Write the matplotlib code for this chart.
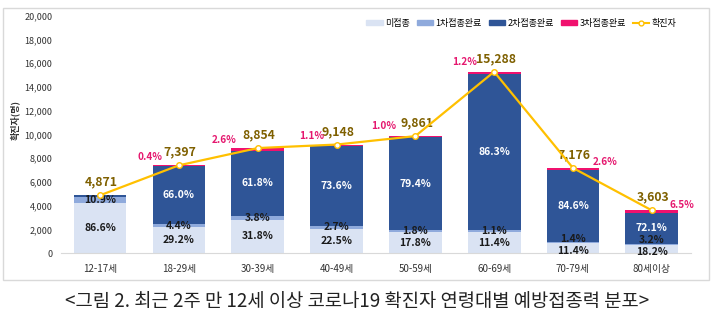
import numpy as np
import matplotlib
matplotlib.use("Agg")
import matplotlib.pyplot as plt
from matplotlib.patches import Rectangle
from matplotlib.lines import Line2D

plt.rcParams['font.family'] = ['Noto Sans CJK KR', 'DejaVu Sans']

# 데이터
ages = ["12-17세", "18-29세", "30-39세", "40-49세", "50-59세", "60-69세", "70-79세", "80세이상"]
totals = [4871, 7397, 8854, 9148, 9861, 15288, 7176, 3603]
pct_none = [86.6, 29.2, 31.8, 22.5, 17.8, 11.4, 11.4, 18.2]
pct_dose1 = [10.9, 4.4, 3.8, 2.7, 1.8, 1.1, 1.4, 3.2]
pct_dose2 = [2.5, 66.0, 61.8, 73.6, 79.4, 86.3, 84.6, 72.1]
pct_dose3 = [0.0, 0.4, 2.6, 1.1, 1.0, 1.2, 2.6, 6.5]
series_names = ["미접종", "1차접종완료", "2차접종완료", "3차접종완료"]
line_name = "확진자"
caption = "<그림 2. 최근 2주 만 12세 이상 코로나19 확진자 연령대별 예방접종력 분포>"

colors = ["#DAE3F3", "#8FAADC", "#2F5597", "#F0116E"]
txt_colors = ["#1a1a1a", "#1a1a1a", "white", None]
line_color = "#FFC000"
total_color = "#7F6000"
pink = "#E5176E"

fig = plt.figure(figsize=(7.14, 3.24), dpi=100)
ax = fig.add_axes([0.085, 0.219, 0.883, 0.732])

x = np.arange(len(ages))
totals_a = np.array(totals, dtype=float)
pcts = [np.array(p) for p in (pct_none, pct_dose1, pct_dose2, pct_dose3)]
bottom = np.zeros(len(ages))
width = 0.67
# 작은 구간 라벨 겹침 방지용 세로 이동(pt)
nudge = {(0, 6): -2, (0, 7): -2, (1, 6): 3, (1, 7): 3}
for i, p in enumerate(pcts):
    h = totals_a * p / 100
    ax.bar(x, h, width, bottom=bottom, color=colors[i], edgecolor="none", zorder=2)
    # 막대 안 비율 표시 (3차는 위쪽에 별도 표시)
    if i < 3:
        for j in range(len(ages)):
            if i == 2 and j == 0:
                continue
            ax.annotate(f"{p[j]:.1f}%", (x[j], bottom[j] + h[j] / 2),
                        xytext=(0, nudge.get((i, j), 0)), textcoords="offset points",
                        ha="center", va="center", fontsize=7.5, fontweight="bold",
                        color=txt_colors[i], zorder=4)
    bottom += h

# 확진자 선
ax.plot(x, totals, color=line_color, lw=1.6, marker="o", ms=4,
        mfc="white", mec=line_color, mew=1, zorder=5)
for j in range(len(ages)):
    ax.annotate(f"{totals[j]:,}", (x[j], totals[j]), xytext=(1, 9.5), textcoords="offset points",
                ha="center", va="center", fontsize=8.8, fontweight="bold", color=total_color)

# 3차접종 비율
offsets = [None, (-21, 6), (-24, 6), (-18, 6), (-23, 7), (-21, 7), (23, 4), (22, 4)]
for j in range(len(ages)):
    if offsets[j] is None:
        continue
    ax.annotate(f"{pct_dose3[j]:.1f}%", (x[j], totals[j]), xytext=offsets[j],
                textcoords="offset points", ha="center", va="center",
                fontsize=7.2, fontweight="bold", color=pink)

ax.set_xlim(-0.5, len(ages) - 0.5)
ax.set_ylim(0, 20000)
ax.set_yticks(np.arange(0, 20001, 2000))
ax.set_yticklabels([f"{v:,}" for v in range(0, 20001, 2000)])
ax.set_xticks(x)
ax.set_xticklabels(ages)
ax.tick_params(axis="y", length=0, pad=6, labelsize=6.5, labelcolor="#333333")
ax.tick_params(axis="x", length=0, pad=8, labelsize=7, labelcolor="#333333")
for s in ["top", "right", "left"]:
    ax.spines[s].set_visible(False)
ax.spines["bottom"].set_color("#D9D9D9")

fig.text(0.021, 0.63, "확진자(명)", rotation=90, ha="center", va="center",
         fontsize=6.5, fontweight="bold", color="#333333")

handles = [Rectangle((0, 0), 1, 1, color=c) for c in colors]
handles.append(Line2D([0], [0], color=line_color, lw=1.5, marker="o", ms=3.5,
                      mfc="white", mec=line_color))
fig.legend(handles, series_names + [line_name], loc="center", bbox_to_anchor=(0.73, 0.929),
           ncol=5, frameon=False, fontsize=6.5, handlelength=1.8, handleheight=0.45,
           columnspacing=0.8, handletextpad=0.25)

# 외곽 틀
fig.patches.append(Rectangle((3 / 714, 1 - 280 / 324), 706 / 714, 272 / 324,
                             transform=fig.transFigure, fill=False,
                             edgecolor="#D9D9D9", lw=1))

fig.text(0.5, 1 - 301 / 324, caption, ha="center", va="center", fontsize=13.5, color="#222222")

fig.savefig("out.png", dpi=100)
